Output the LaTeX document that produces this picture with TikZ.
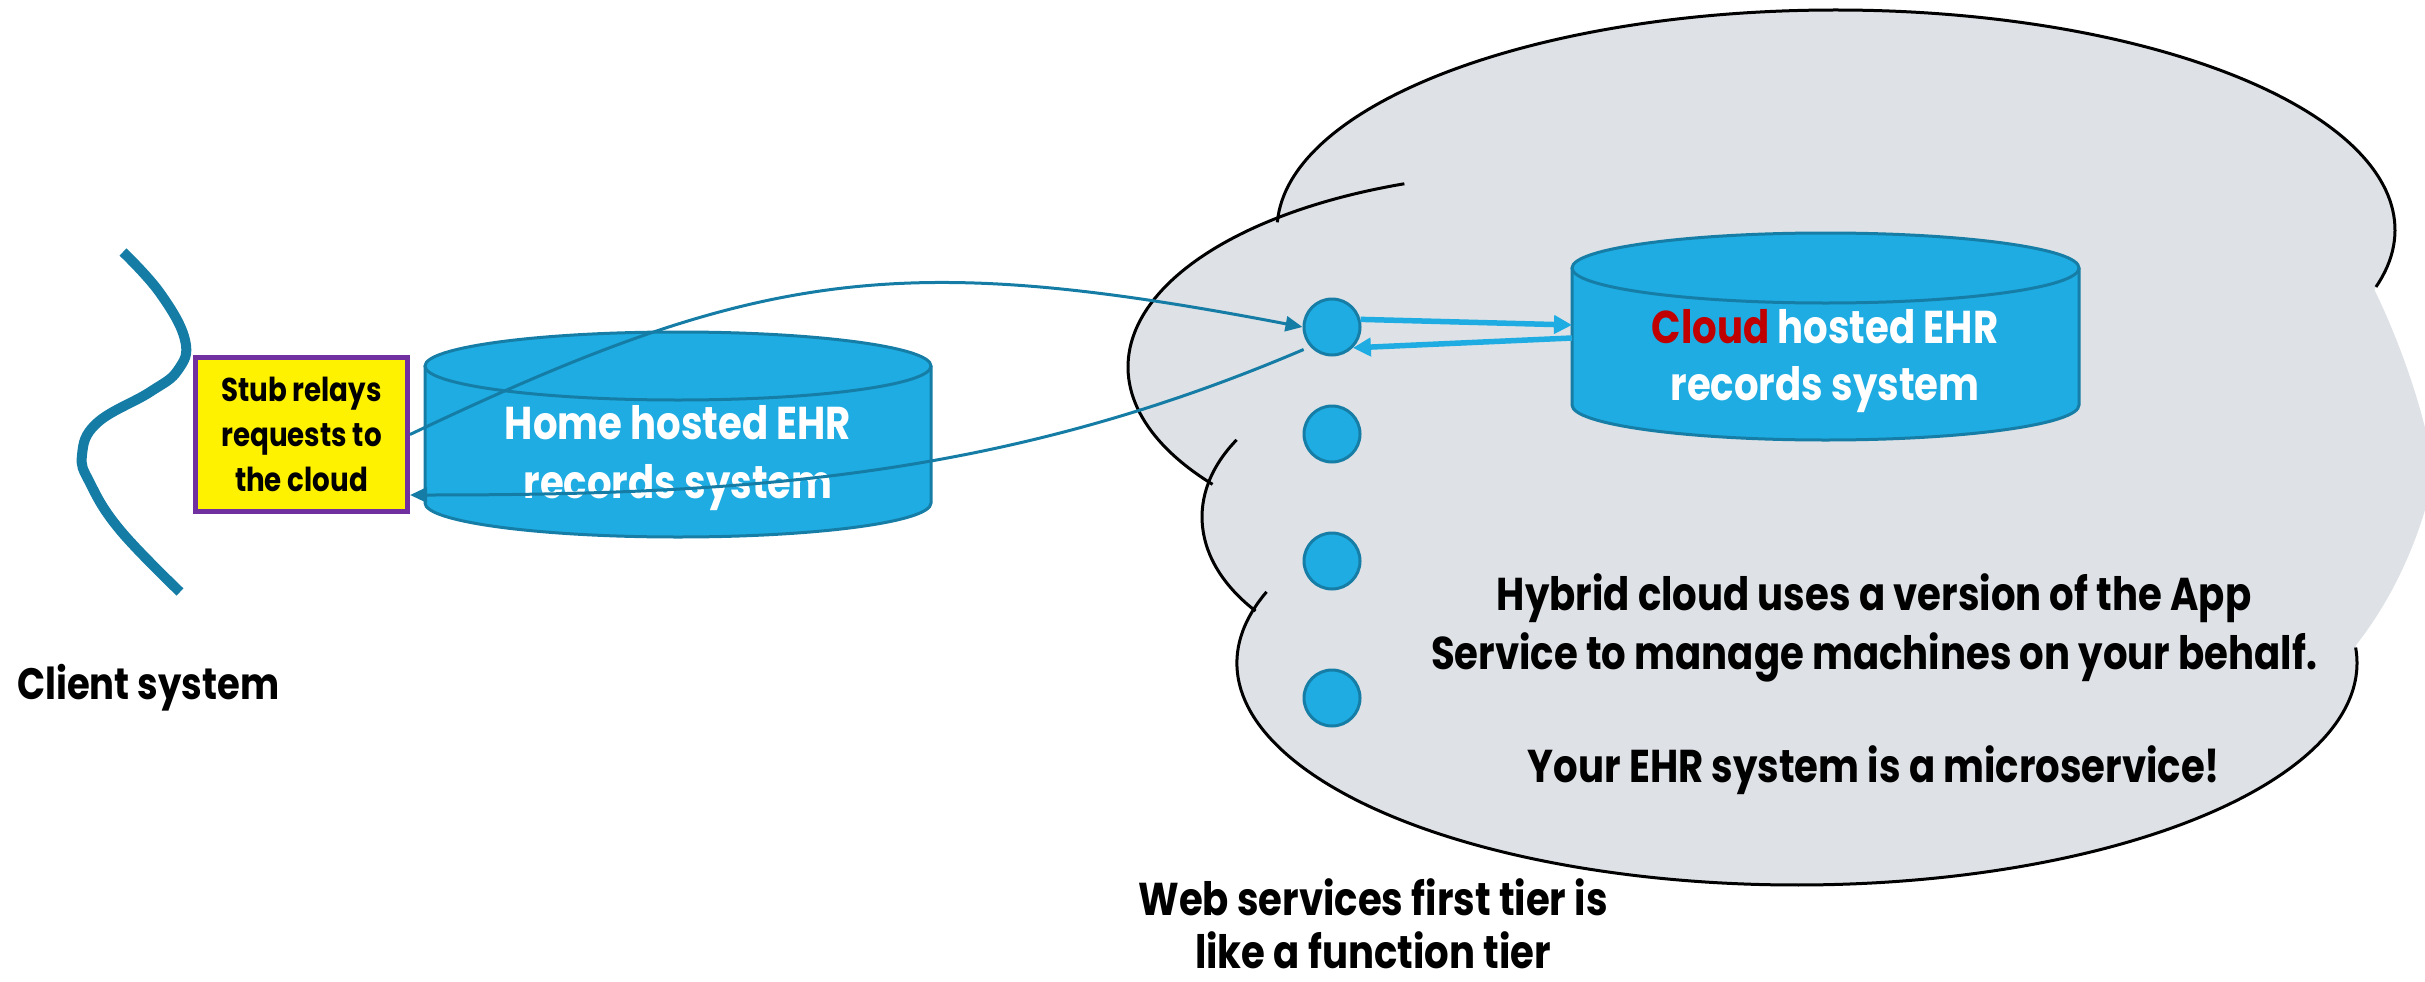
\documentclass[tikz,border=0pt]{standalone}
\usepackage{fontspec}
\setmainfont{Poppins}[FakeStretch=0.84]
\usetikzlibrary{arrows.meta,calc}
\definecolor{cylfill}{RGB}{30,172,226}
\definecolor{cyledge}{RGB}{22,126,166}
\definecolor{linkblue}{RGB}{21,125,165}
\definecolor{cloudgray}{RGB}{222,225,229}
\definecolor{stubpurple}{RGB}{112,48,160}
\definecolor{cloudred}{RGB}{192,0,0}
\begin{document}
\begin{tikzpicture}[x=1pt,y=-1pt,
  cloudline/.style={black,line width=3pt},
  cylline/.style={draw=cyledge,line width=3pt},
  ws/.style={circle,fill=cylfill,draw=cyledge,line width=3pt,minimum size=56pt,inner sep=0pt},
  thinarrow/.style={draw=linkblue,line width=3pt,-{Triangle[length=17pt,width=15pt]}},
  thickarrow/.style={draw=cylfill,line width=5.5pt,-{Triangle[length=18pt,width=18pt]}},
  bigtext/.style={font=\bfseries\fontsize{46}{59}\selectfont,align=center,inner sep=0pt},
  clientline/.style={draw=linkblue,line width=10pt},
]
\useasboundingbox (0,0) rectangle (2425,982);
\clip (0,0) rectangle (2425,982);

% ---- cloud fill
\fill[cloudgray] (1836,230) ellipse[x radius=559,y radius=220];
\fill[cloudgray] (1548,367) ellipse[x radius=420,y radius=195];
\fill[cloudgray] (1452,517) ellipse[x radius=250,y radius=152];
\fill[cloudgray] (1797,663) ellipse[x radius=560,y radius=222];
\fill[cloudgray] (1350,200) -- (2370,280) -- (2400,450) -- (2355,650) -- (1350,640) -- cycle;
\fill[cloudgray] (2373,287) .. controls (2392,325) and (2418,390) .. (2430,450) -- (2440,450) -- (2440,500)
  -- (2425,510) .. controls (2410,560) and (2385,610) .. (2352,650) -- (2300,450) -- cycle;
% ---- cloud outlines
\draw[cloudline] ($(1836,230)+(182:559 and 220)$) arc[start angle=182,end angle=375,x radius=559,y radius=220];
\draw[cloudline] ($(1548,367)+(250:420 and 195)$) arc[start angle=250,end angle=143,x radius=420,y radius=195];
\draw[cloudline] ($(1452,517)+(210.5:250 and 152)$) arc[start angle=210.5,end angle=141.8,x radius=250,y radius=152];
\draw[cloudline] ($(1797,663)+(198.7:560 and 222)$) arc[start angle=198.7,end angle=-4,x radius=560,y radius=222];

% ---- client system curve
\draw[clientline] plot[smooth,tension=0.7] coordinates {(123,252) (160,293) (185,340) (178,370) (150,392) (97,423) (82,455) (90,483) (120,530) (180,592)};
\node[font=\bfseries\fontsize{44}{55}\selectfont,anchor=base west,inner sep=0pt] (client) at (17,699) {Client system};

% ---- stub
\node[draw=stubpurple,fill=yellow,line width=5pt,minimum width=212pt,minimum height=154pt,inner sep=0pt,
  align=center,font=\bfseries\fontsize{33}{45}\selectfont] (stub) at (301.5,434.5) {Stub relays\\requests to\\the cloud};

% ---- home cylinder
\fill[cylfill] (425,366) -- (425,503) arc[start angle=180,end angle=0,x radius=253,y radius=34]
  -- (931,366) arc[start angle=0,end angle=-180,x radius=253,y radius=34] -- cycle;
\draw[cylline] (425,366) -- (425,503) arc[start angle=180,end angle=0,x radius=253,y radius=34] -- (931,366);
\draw[cylline] (678,366) ellipse[x radius=253,y radius=34];
\node[bigtext,text=white,anchor=base] (hometext) at (678,498) {Home hosted EHR\\records system};

% ---- web service nodes
\node[ws] (ws1) at (1332,327) {};
\node[ws] (ws2) at (1332,434) {};
\node[ws] (ws3) at (1332,561) {};
\node[ws] (ws4) at (1332,698) {};

% ---- cloud cylinder
\fill[cylfill] (1572,268) -- (1572,405) arc[start angle=180,end angle=0,x radius=253.5,y radius=35]
  -- (2079,268) arc[start angle=0,end angle=-180,x radius=253.5,y radius=35] -- cycle;
\draw[cylline] (1572,268) -- (1572,405) arc[start angle=180,end angle=0,x radius=253.5,y radius=35] -- (2079,268);
\draw[cylline] (1825.5,268) ellipse[x radius=253.5,y radius=35];
\node[minimum width=507pt,minimum height=137pt,inner sep=0pt,outer sep=0pt] (ccyl) at (1825.5,336.5) {};
\node[bigtext,text=white,anchor=base,font=\bfseries\fontsize{46}{57}\selectfont] (ccyltext) at (1825,400) {\textcolor{cloudred}{Cloud} hosted EHR\\records system};

% ---- connectors
\draw[thinarrow] (stub.east) .. controls (760,268) and (900,250) .. (ws1.west);
\draw[thinarrow,shorten <=7pt] (ws1.222) .. controls (1005,477) and (750,495) .. ($(stub.south east)+(0,-19)$);
\draw[thickarrow] (ws1.15) -- ($(ccyl.west)+(0,-11.5)$);
\draw[thickarrow] ($(ccyl.west)+(0,1.5)$) -- (ws1.-45);

% ---- cloud texts
\node[bigtext,anchor=base] (hybrid) at (1874,782) {Hybrid cloud uses a version of the App\\Service to manage machines on your behalf.\\[54pt]Your EHR system is a microservice!};
\node[bigtext,anchor=base,font=\bfseries\fontsize{46}{53}\selectfont] (webtier) at (1373,968) {Web services first tier is\\like a function tier};
\end{tikzpicture}
\end{document}
